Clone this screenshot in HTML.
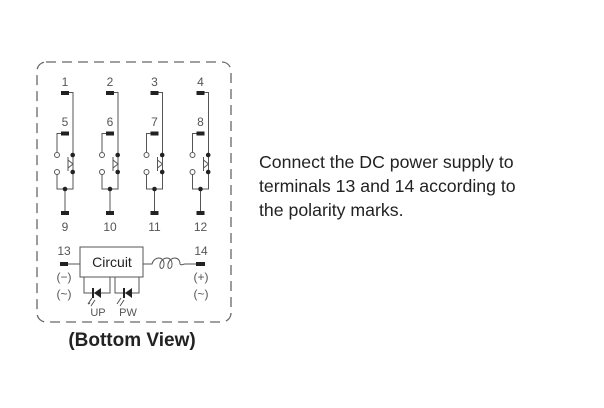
<!DOCTYPE html>
<html><head><style>
body{margin:0;background:#fff;width:604px;height:408px;overflow:hidden}
svg{display:block}
text{font-family:"Liberation Sans",sans-serif}
</style></head><body>
<svg width="604" height="408" viewBox="0 0 604 408">
<rect x="37" y="62" width="194" height="260" rx="9" fill="none" stroke="#666" stroke-width="1.3" stroke-dasharray="10,6"/>
<g id="col">
<g stroke="#555" stroke-width="1" fill="none">
<path d="M68 92.5 H73 V189 H57 V172"/>
<path d="M61 133.5 H57 V152"/>
<path d="M65 189 V212"/>
<path d="M68 157 V171"/>
<path d="M68 160 L73 164 L68 168" />
</g>
<rect x="61" y="91" width="8" height="4" fill="#222"/>
<rect x="61" y="131.5" width="8" height="4" fill="#222"/>
<rect x="61" y="211" width="8" height="4" fill="#222"/>
<circle cx="57" cy="155" r="2.5" fill="#fff" stroke="#555"/>
<circle cx="57" cy="172" r="2.5" fill="#fff" stroke="#555"/>
<circle cx="72.7" cy="155" r="2.3" fill="#222"/>
<circle cx="72.7" cy="172" r="2.3" fill="#222"/>
<circle cx="65" cy="189" r="2.3" fill="#222"/>
</g>
<use href="#col" x="45"/>
<use href="#col" x="89.5"/>
<use href="#col" x="135.5"/>
<g font-size="12" fill="#555" text-anchor="middle">
<text x="65" y="86">1</text><text x="110" y="86">2</text><text x="154.5" y="86">3</text><text x="200.5" y="86">4</text>
<text x="65" y="126">5</text><text x="110" y="126">6</text><text x="154.5" y="126">7</text><text x="200.5" y="126">8</text>
<text x="65" y="231">9</text><text x="110" y="231">10</text><text x="154.5" y="231">11</text><text x="200.5" y="231">12</text>
<text x="64" y="255">13</text><text x="201" y="255">14</text>
<text x="64" y="281">(−)</text><text x="64" y="298">(~)</text>
<text x="201" y="281">(+)</text><text x="201" y="298">(~)</text>
<text x="98" y="316" font-size="11">UP</text><text x="128" y="316" font-size="11">PW</text>
</g>
<g stroke="#555" stroke-width="1" fill="none">
<rect x="80" y="247" width="63" height="30"/>
<path d="M68 264 H80"/>
<path d="M143 264 H152 C154 256 164 256 164 264 C164 270 159 270 160 264 C162 256 172 256 172 264 C172 270 167 270 168 264 C170 256 180 256 180 264 C181 266 183 264 185 264 H196"/>
<path d="M84 277 V293 H110 V277 M115 277 V293 H139 V277"/>
<path d="M92 298 l-4 6 M88 304 l2 -1 M95 300 l-4 6 M121 298 l-4 6 M124 300 l-4 6"/>
</g>
<g fill="#222">
<rect x="60" y="262" width="8" height="4"/><rect x="196" y="262" width="9" height="4"/>
<path d="M94 293 L101 288 V298 Z"/><rect x="92" y="288" width="2" height="10"/>
<path d="M125 293 L132 288 V298 Z"/><rect x="123" y="288" width="2" height="10"/>
</g>
<text x="112" y="267" font-size="14" text-anchor="middle" fill="#222">Circuit</text>
<text x="132" y="346" font-size="19" font-weight="bold" text-anchor="middle" fill="#222">(Bottom View)</text>
<g font-size="17.7" fill="#222">
<text x="259" y="168">Connect the DC power supply to</text>
<text x="259" y="192">terminals 13 and 14 according to</text>
<text x="259" y="216">the polarity marks.</text>
</g>
</svg>
</body></html>
